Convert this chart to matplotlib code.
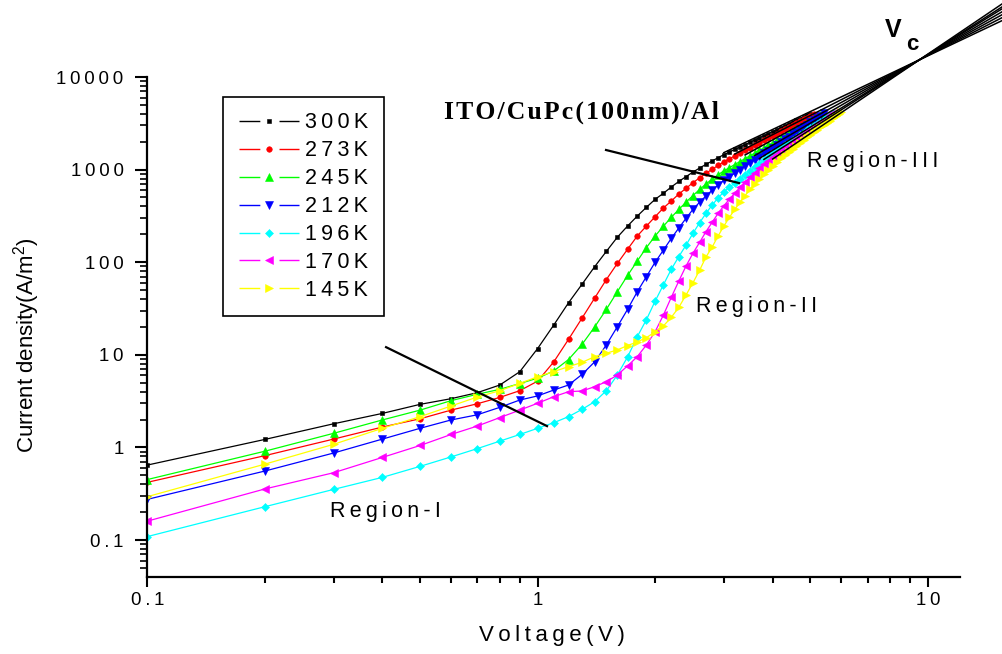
import numpy as np
import matplotlib
matplotlib.use("Agg")
import matplotlib.pyplot as plt
from matplotlib.lines import Line2D
from matplotlib.ticker import FixedLocator, FixedFormatter, NullFormatter

plt.rcParams['font.family'] = ['Liberation Sans', 'DejaVu Sans']
plt.rcParams['mathtext.fontset'] = 'custom'
plt.rcParams['mathtext.rm'] = 'Liberation Sans'
plt.rcParams['mathtext.bf'] = 'Liberation Sans:bold'

THIN = '\u2009'


def track(s, sep=THIN):
    """Open up letter spacing the way the original plotting package did."""
    return sep.join(s)


# ---------------------------------------------------------------- data ----
temperatures = ['300K', '273K', '245K', '212K', '196K', '170K', '145K']
v_max = [5.0, 5.1, 5.4, 5.4, 5.7, 5.7, 6.0]     # last voltage of each sweep (0.1 V steps)

j_300K = [0.645, 1.22, 1.80, 2.33, 2.92, 3.36, 3.90, 4.72, 6.57, 11.7,
          21, 36.5, 58, 89.5, 131, 186, 246, 315, 392, 478,
          555, 649, 745, 840, 940, 1040, 1140, 1240, 1345, 1450,
          1548, 1650, 1754, 1862, 1974, 2088, 2206, 2327, 2451, 2578,
          2708, 2842, 2979, 3119, 3263, 3410, 3560, 3713, 3870, 4028]
j_273K = [0.42, 0.815, 1.23, 1.66, 2.04, 2.53, 2.96, 3.47, 4.10, 5.2,
          8.4, 14.7, 25, 41, 65, 97, 138, 192, 246, 310,
          385, 458, 545, 628, 722, 815, 910, 1010, 1110, 1215,
          1308, 1405, 1505, 1609, 1717, 1829, 1944, 2064, 2187, 2314,
          2446, 2581, 2720, 2864, 3011, 3163, 3319, 3479, 3643, 3811,
          3984]
j_245K = [0.45, 0.91, 1.42, 1.98, 2.53, 3.2, 3.75, 4.24, 4.9, 5.6,
          6.7, 8.9, 13, 20, 31, 48, 72, 103, 144, 192,
          245, 305, 372, 445, 525, 610, 700, 790, 880, 970,
          1050, 1135, 1223, 1315, 1411, 1511, 1615, 1724, 1836, 1953,
          2074, 2199, 2329, 2464, 2599, 2742, 2891, 3043, 3201, 3363,
          3530, 3702, 3878, 4060]
j_212K = [0.275, 0.556, 0.87, 1.23, 1.61, 1.98, 2.25, 2.71, 3.25, 3.6,
          4.17, 4.72, 6.15, 8.4, 12.8, 20.1, 31, 48, 70, 100,
          135, 181, 234, 298, 372, 445, 520, 600, 680, 765,
          839, 918, 1002, 1090, 1183, 1282, 1385, 1494, 1607, 1727,
          1852, 1982, 2119, 2261, 2410, 2565, 2726, 2893, 3067, 3247,
          3434, 3628, 3829, 4037]
j_196K = [0.109, 0.229, 0.352, 0.475, 0.625, 0.79, 0.97, 1.17, 1.38, 1.61,
          1.85, 2.15, 2.58, 3.12, 4.1, 6.05, 9.5, 15.7, 24, 38,
          57, 84, 115, 153, 205, 267, 337, 415, 495, 575,
          645, 718, 795, 876, 962, 1054, 1153, 1261, 1376, 1499,
          1606, 1718, 1836, 1958, 2085, 2217, 2355, 2497, 2646, 2800,
          2960, 3125, 3296, 3473, 3656, 3846, 4041]
j_170K = [0.16, 0.356, 0.533, 0.78, 1.05, 1.38, 1.70, 2.1, 2.53, 3.0,
          3.53, 4.0, 4.07, 4.53, 5.13, 6.05, 7.6, 9.55, 12.8, 17.8,
          26.9, 41.8, 62.7, 91, 125, 164, 214, 270, 337, 407,
          479, 558, 643, 733, 828, 927, 1030, 1137, 1248, 1364,
          1483, 1606, 1734, 1866, 2003, 2144, 2289, 2438, 2594, 2756,
          2922, 3094, 3273, 3455, 3644, 3840, 4042]
j_145K = [0.294, 0.66, 1.08, 1.61, 2.15, 2.8, 3.5, 4.1, 4.92, 5.8,
          6.6, 7.45, 8.3, 9.55, 10.4, 11.3, 12.6, 13.8, 15.3, 17.8,
          20.5, 25.4, 32.6, 44.3, 60, 82, 114, 146, 192, 246,
          305, 372, 445, 525, 610, 700, 795, 895, 1000, 1105,
          1210, 1320, 1435, 1555, 1680, 1810, 1945, 2085, 2230, 2380,
          2535, 2695, 2860, 3030, 3205, 3385, 3570, 3760, 3955, 4150]
current = [j_300K, j_273K, j_245K, j_212K, j_196K, j_170K, j_145K]

# Region-III power-law fits, all crossing at (Vc, Jc)
v_cross, j_cross = 9.5, 15300.0
fit_slope = [2.0, 2.15, 2.3, 2.45, 2.6, 2.7, 2.85]
fit_start = [3.0, 3.2, 3.4, 3.6, 3.7, 3.8, 4.0]
fit_stop = 16.0

# pointer lines (voltage, current density)
pointer_region1 = ([0.409, 1.057], [12.1, 1.70])
pointer_device = ([1.497, 3.28], [1628, 716])

x_ticks = [0.1, 1, 10]
x_tick_labels = ['0.1', '1', '10']
y_ticks = [0.1, 1, 10, 100, 1000, 10000]
y_tick_labels = ['0.1', '1', '10', '100', '1000', '10000']

# --------------------------------------------------------------- style ----
colors = ['#000000', '#ff0000', '#00ff00', '#0000ff', '#00ffff', '#ff00ff', '#ffff00']
markers = ['s', 'o', '^', 'v', 'D', '<', '>']
msizes = [3.4, 4.0, 5.2, 5.2, 4.0, 5.2, 5.2]

W, H = 1002, 654
fig = plt.figure(figsize=(W / 100, H / 100), dpi=100)
ax_l, ax_r, ax_t, ax_b = 147.3, 960.0, 77.0, 576.7
ax = fig.add_axes([ax_l / W, 1 - ax_b / H, (ax_r - ax_l) / W, (ax_b - ax_t) / H])


def fx(px):
    return px / W


def fy(py):
    return 1 - py / H


for temp, j, vm, c, m, ms in zip(temperatures, current, v_max, colors, markers, msizes):
    v = np.round(np.arange(1, int(round(vm * 10)) + 1) * 0.1, 1)
    ax.plot(v, j, color=c, lw=0.9, marker=m, ms=ms, mec=c, mew=0.4, zorder=2)

for s, v0 in zip(fit_slope, fit_start):
    vv = np.array([v0, fit_stop])
    ax.plot(vv, j_cross * (vv / v_cross) ** s, color='black', lw=1.1,
            clip_on=False, zorder=3)

ax.plot(*pointer_region1, color='black', lw=1.6, zorder=4)
ax.plot(*pointer_device, color='black', lw=1.6, zorder=4)

ax.set_xscale('log')
ax.set_yscale('log')
ax.set_xlim(0.1, 12.08)
ax.set_ylim(0.0402, 10000)

ax.xaxis.set_major_locator(FixedLocator(x_ticks))
ax.xaxis.set_major_formatter(FixedFormatter([track(t) for t in x_tick_labels]))
ax.xaxis.set_minor_locator(FixedLocator([k * d for d in (0.1, 1) for k in range(2, 10)]))
ax.xaxis.set_minor_formatter(NullFormatter())
ax.yaxis.set_major_locator(FixedLocator(y_ticks))
ax.yaxis.set_major_formatter(FixedFormatter([track(t) for t in y_tick_labels]))
ax.yaxis.set_minor_locator(FixedLocator([k * d for d in (0.01, 0.1, 1, 10, 100, 1000)
                                         for k in range(2, 10)]))
ax.yaxis.set_minor_formatter(NullFormatter())

for side in ('top', 'right'):
    ax.spines[side].set_visible(False)
for side in ('left', 'bottom'):
    ax.spines[side].set_linewidth(1.6)

ax.tick_params(axis='x', which='major', direction='out', length=7, width=1.5,
               labelsize=13.4, pad=4)
ax.tick_params(axis='x', which='minor', direction='out', length=4, width=1.5)
ax.tick_params(axis='y', which='major', direction='out', length=9, width=1.5,
               labelsize=13.4, pad=8)
ax.tick_params(axis='y', which='minor', direction='out', length=5, width=1.2)

ax.set_xlabel(track('Voltage(V)'), fontsize=16, va='center')
ax.xaxis.set_label_coords((552 - ax_l) / (ax_r - ax_l), -(636 - ax_b) / (ax_b - ax_t))
ax.set_ylabel('Current density(A/m$^{2}$)', fontsize=16, va='center')
ax.yaxis.set_label_coords((27 - ax_l) / (ax_r - ax_l), (ax_b - 345) / (ax_b - ax_t))

# legend: line - symbol - line
handles = [Line2D([], [], color=c, lw=1.0, ls=(0, (15.0, 13.8)), marker=m, ms=ms,
                  mec=c, mew=0.4)
           for c, m, ms in zip(colors, markers, msizes)]
leg = fig.legend(handles, [track(t) for t in temperatures], loc='upper left',
                 bbox_to_anchor=(fx(223), fy(97)), bbox_transform=fig.transFigure,
                 fontsize=15.5, handlelength=2.8, handletextpad=0.3,
                 labelspacing=0.32, borderpad=0.72, borderaxespad=0,
                 fancybox=False, framealpha=1, edgecolor='black', numpoints=1)
leg.get_frame().set_linewidth(1.2)

fig.text(fx(385), fy(511), track('Region-I'), ha='center', va='center', fontsize=15.5)
fig.text(fx(757), fy(306), track('Region-II'), ha='center', va='center', fontsize=15.5)
fig.text(fx(873), fy(161), track('Region-III'), ha='center', va='center', fontsize=15.5)
fig.text(fx(581), fy(112), track('ITO/CuPc(100nm)/Al', '\u200a'), ha='center', va='center',
         fontsize=18.5, fontweight='bold', family=['Liberation Serif', 'DejaVu Serif'])
fig.text(fx(893), fy(30), 'V', ha='center', va='center', fontsize=18, fontweight='bold')
fig.text(fx(912), fy(44), 'c', ha='center', va='center', fontsize=16, fontweight='bold')

fig.savefig('out.png', dpi=100)
